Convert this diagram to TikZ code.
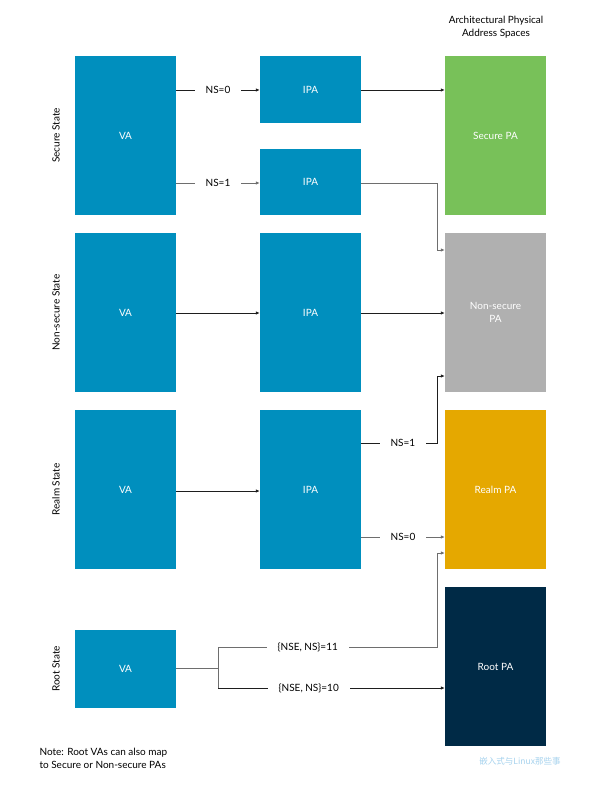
\documentclass[tikz,border=0pt]{standalone}
\usepackage{fontspec}
\setmainfont{Lato}
\newfontfamily\cjk{Noto Sans CJK SC}
\usetikzlibrary{arrows.meta}
\definecolor{armblue}{RGB}{0,143,190}
\definecolor{securegreen}{RGB}{120,193,89}
\definecolor{nsgray}{RGB}{176,176,176}
\definecolor{realmorange}{RGB}{229,168,0}
\definecolor{rootnavy}{RGB}{0,42,70}
\definecolor{lineblack}{RGB}{30,30,30}
\definecolor{linegray}{RGB}{110,110,110}
\tikzset{
  box/.style={draw=none, minimum width=101pt, inner sep=0pt, font=\fontsize{10}{12.5}\selectfont, text=white, align=center},
  bluebox/.style={box, fill=armblue},
  conn/.style={line width=0.8pt, draw=lineblack, -{Latex[length=4pt,width=3.5pt]}},
  gconn/.style={conn, draw=linegray},
  plainline/.style={line width=0.8pt, draw=lineblack},
  gline/.style={line width=0.8pt, draw=linegray},
  lbl/.style={fill=white, inner xsep=11pt, inner ysep=1pt, font=\fontsize{10}{12}\selectfont, text=black},
  statelbl/.style={rotate=90, font=\fontsize{10}{12}\selectfont, text=black},
  txt/.style={font=\fontsize{10}{12.5}\selectfont, text=black, align=left}
}
\begin{document}
\begin{tikzpicture}[x=1pt,y=-1pt]
\useasboundingbox[fill=white] (0,0) rectangle (598,786);
% boxes
\node[bluebox, minimum height=159pt] (va1) at (125.5,135.5) {VA};
\node[bluebox, minimum height=67pt] (ipa1a) at (310.5,89.5) {IPA};
\node[bluebox, minimum height=66pt] (ipa1b) at (310.5,182) {IPA};
\node[box, fill=securegreen, minimum height=159pt] (spa) at (495.5,135.5) {Secure PA};

\node[bluebox, minimum height=159pt] (va2) at (125.5,312.5) {VA};
\node[bluebox, minimum height=159pt] (ipa2) at (310.5,312.5) {IPA};
\node[box, fill=nsgray, minimum height=159pt] (nspa) at (495.5,312.5) {Non-secure\\PA};

\node[bluebox, minimum height=159pt] (va3) at (125.5,489.5) {VA};
\node[bluebox, minimum height=159pt] (ipa3) at (310.5,489.5) {IPA};
\node[box, fill=realmorange, minimum height=159pt] (rpa) at (495.5,489.5) {Realm PA};

\node[bluebox, minimum height=78pt] (va4) at (125.5,669) {VA};
\node[box, fill=rootnavy, minimum height=159pt] (rootpa) at (495.5,666.5) {Root PA};

% state labels
\node[statelbl] (s1) at (56,135.5) {Secure State};
\node[statelbl] (s2) at (56,312.5) {Non-secure State};
\node[statelbl] (s3) at (56,489.5) {Realm State};
\node[statelbl] (s4) at (56,669) {Root State};

% title
\node[txt, align=center] (title) at (496,27) {Architectural Physical\\Address Spaces};

% secure
\draw[conn] (va1.east |- 0,90) -- node[lbl, pos=0.5] {NS=0} (ipa1a.west |- 0,90);
\draw[conn] (ipa1a.east |- 0,90) -- (spa.west |- 0,90);
\draw[gconn] (va1.east |- 0,183) -- node[lbl, pos=0.5] {NS=1} (ipa1b.west |- 0,183);
\coordinate (c1) at (437,183);
\coordinate (c1b) at (437,250);
\draw[gconn] (ipa1b.east |- 0,183) -- (c1) -- (c1b) -- (nspa.west |- 0,250);

% non-secure
\draw[conn] (va2.east |- 0,313) -- (ipa2.west |- 0,313);
\draw[conn] (ipa2.east |- 0,313) -- (nspa.west |- 0,313);

% realm
\draw[conn] (va3.east |- 0,491) -- (ipa3.west |- 0,491);
\coordinate (c2) at (437,443);
\coordinate (c2b) at (437,376);
\draw[conn] (ipa3.east |- 0,443) -- node[lbl, pos=0.55] {NS=1} (c2) -- (c2b) -- (nspa.west |- 0,376);
\draw[gconn] (ipa3.east |- 0,537) -- node[lbl, pos=0.5] {NS=0} (rpa.west |- 0,537);

% root
\coordinate (b0) at (218,668);
\coordinate (bt) at (218,647);
\coordinate (bb) at (218,688);
\coordinate (c3) at (437,647);
\coordinate (c3b) at (437,553);
\draw[gline] (va4.east |- 0,668) -- (b0);
\draw[gline] (bt) -- (bb);
\draw[gconn] (bt) -- node[lbl, pos=0.41] {\{NSE, NS\}=11} (c3) -- (c3b) -- (rpa.west |- 0,553);
\draw[conn] (bb) -- node[lbl, pos=0.40] {\{NSE, NS\}=10} (rootpa.west |- 0,688);

% note
\node[txt, anchor=north west] (note) at (36,745) {Note: Root VAs can also map\\to Secure or Non-secure PAs};

% watermark
\node[font=\cjk\fontsize{8.5}{10}\selectfont, text={rgb,255:red,165;green,210;blue,238}] (wm) at (520,761) {嵌入式与Linux那些事};
\end{tikzpicture}
\end{document}
